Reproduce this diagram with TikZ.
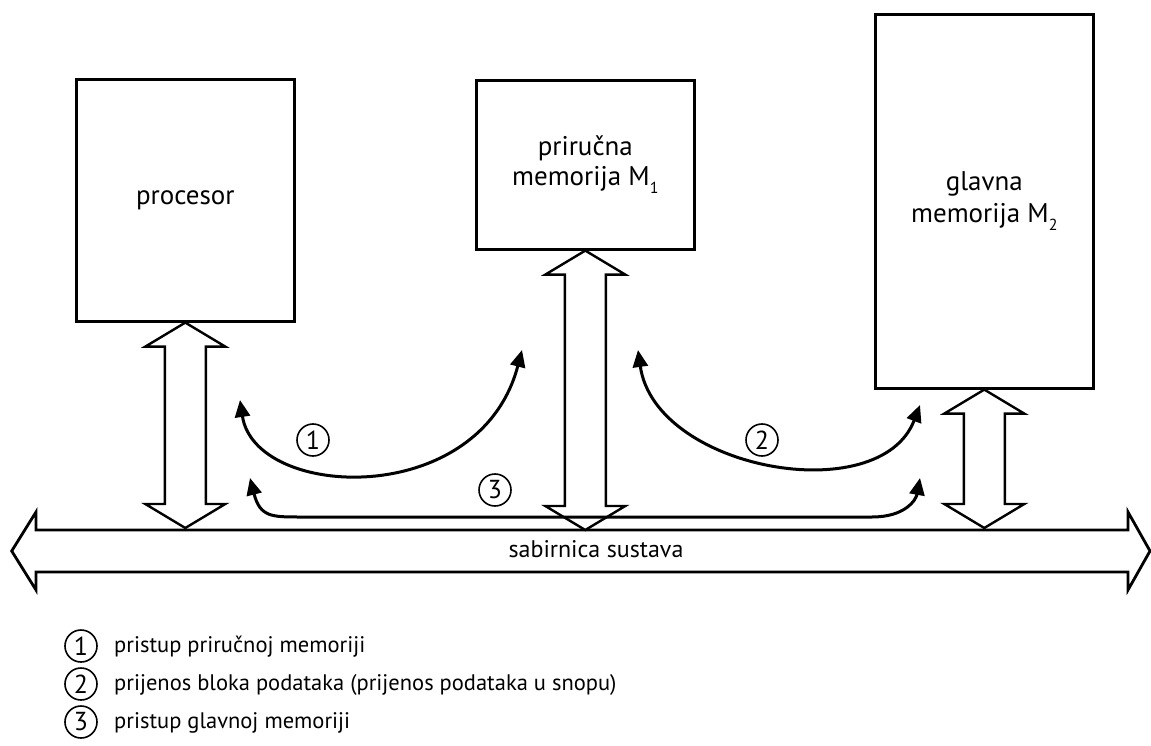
\documentclass[tikz,border=0pt]{standalone}
\usepackage{fontspec}
\setmainfont{PT Sans}
\usetikzlibrary{arrows.meta,calc}
\newcommand{\dblarrow}[2]{%
  \draw[blockarrow] let \p1=(#1), \p2=(#2) in
    (\x1,\y1) -- (\x1+40pt,\y1-24pt) -- (\x1+20.5pt,\y1-24pt) -- (\x1+20.5pt,\y2+24pt)
    -- (\x1+40pt,\y2+24pt) -- (\x1,\y2) -- (\x1-40pt,\y2+24pt) -- (\x1-20.5pt,\y2+24pt)
    -- (\x1-20.5pt,\y1-24pt) -- (\x1-40pt,\y1-24pt) -- cycle;}
\newcommand{\lowsub}[1]{\raisebox{-0.3em}{\fontsize{16}{16}\selectfont #1}}
\begin{document}
\begin{tikzpicture}[x=1pt,y=-1pt,
  box/.style={draw,line width=2.6pt,minimum width=218pt,inner sep=0pt,anchor=north west,
    align=center,font=\fontsize{27}{32}\selectfont},
  blockarrow/.style={draw,line width=2.4pt,line join=miter,fill=white},
  curvearrow/.style={line width=3pt,{Triangle[length=17pt,width=15pt]}-{Triangle[length=17pt,width=15pt]}},
  numcirc/.style={circle,draw,line width=1.6pt,minimum size=32pt,inner sep=0pt,
    font=\fontsize{26}{26}\selectfont},
  legtext/.style={anchor=base west,inner sep=0pt,font=\fontsize{22.5}{26}\selectfont}]
\useasboundingbox (0,0) rectangle (1151,746);
\fill[white] (0,0) rectangle (1151,746);

% boxes
\node[box,minimum height=242pt] (proc) at (75,78) {procesor};
\node[box,minimum height=169pt] (cache) at (475,79) {priručna\\[-2pt]memorija M\lowsub{1}\vphantom{g}};
\node[box,minimum height=374pt] (main) at (874,13) {glavna\\memorija M\lowsub{2}};

% system bus
\coordinate (busL) at (11.7,551);
\coordinate (busR) at (1150,551);
\draw[blockarrow,line width=2.8pt] (busL) -- (36,512) -- (36,530) -- (1128,530) -- (1128,512) -- (busR)
  -- (1128,590) -- (1128,572) -- (36,572) -- (36,590) -- cycle;
\node[inner sep=0pt,font=\fontsize{24}{28}\selectfont] (bus) at (596,549) {sabirnica sustava};

\coordinate (b1) at (proc.south |- 0,528);
\coordinate (b2) at (cache.south |- 0,530);
\coordinate (b3) at (main.south |- 0,528);
\dblarrow{proc.south}{b1}
\dblarrow{cache.south}{b2}
\dblarrow{main.south}{b3}

% curved arrows
\coordinate (a1s) at (240,400);
\coordinate (a1e) at (522,350);
\coordinate (a2s) at (638,350);
\coordinate (a2e) at (920,405);
\coordinate (a3s) at (250,478);
\coordinate (a3e) at (920,478);
\draw[curvearrow] (a1s) .. controls (255,500) and (480,510) .. (a1e);
\draw[curvearrow] (a2s) .. controls (655,470) and (880,510) .. (a2e);
\draw[curvearrow] (a3s) .. controls (260,517) and (272,517) .. (300,517) -- (872,517)
  .. controls (905,517) and (916,500) .. (a3e);

\node[numcirc] (n1) at (313,440) {1};
\node[numcirc] (n2) at (762,440) {2};
\node[numcirc] (n3) at (495,490) {3};

% legend
\node[numcirc] (l1) at (81,646) {1};
\node[numcirc] (l2) at (81,684) {2};
\node[numcirc] (l3) at (81,722) {3};
\node[legtext] (t1) at (114,652) {pristup priručnoj memoriji};
\node[legtext] (t2) at (114,690) {prijenos bloka podataka (prijenos podataka u snopu)};
\node[legtext] (t3) at (114,728) {pristup glavnoj memoriji};
\end{tikzpicture}
\end{document}
